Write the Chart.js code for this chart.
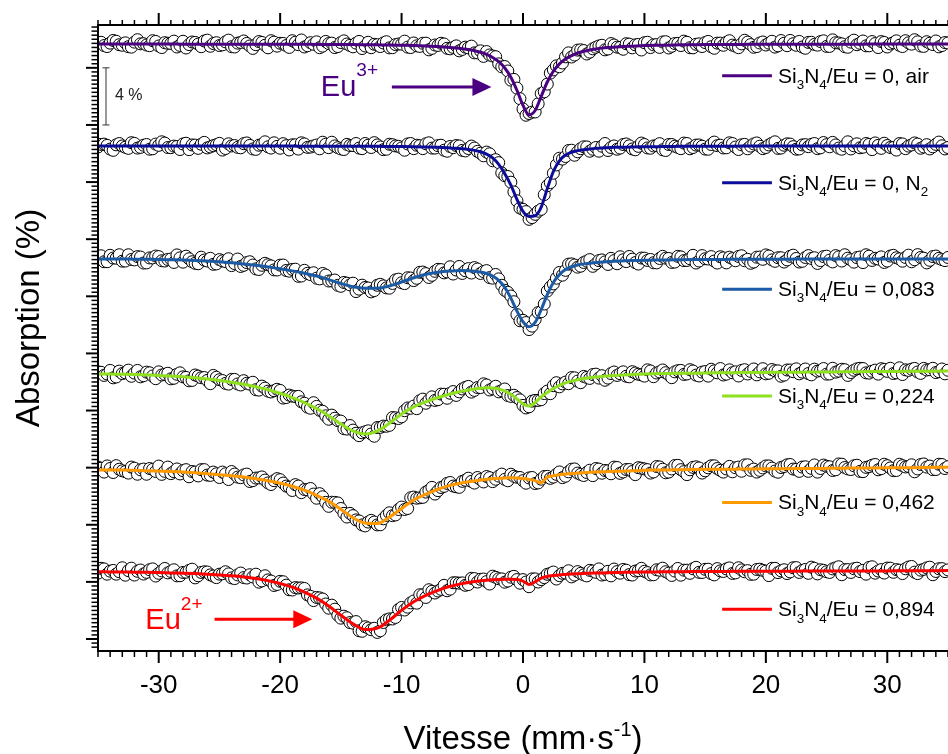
<!DOCTYPE html>
<html>
<head>
<meta charset="utf-8">
<script src="https://cdn.jsdelivr.net/npm/chart.js@4.4.0/dist/chart.umd.min.js"></script>
<style>
  html, body { margin: 0; padding: 0; background: #fff; }
  canvas { display: block; }
</style>
</head>
<body>
<canvas id="chart" width="948" height="754" style="width:948px;height:754px"></canvas>
<script>
// vitesse des points mesures (mm/s), canaux pairs
const VEL = [
  -35,-34.5,-34,-33.5,-33,-32.5,-32,-31.5,-31,-30.5,
  -30,-29.5,-29,-28.5,-28,-27.5,-27,-26.5,-26,-25.5,
  -25,-24.5,-24,-23.5,-23,-22.5,-22,-21.5,-21,-20.5,
  -20,-19.5,-19,-18.5,-18,-17.5,-17,-16.5,-16,-15.5,
  -15,-14.5,-14,-13.5,-13,-12.5,-12,-11.5,-11,-10.5,
  -10,-9.5,-9,-8.5,-8,-7.5,-7,-6.5,-6,-5.5,
  -5,-4.5,-4,-3.5,-3,-2.5,-2,-1.5,-1,-0.5,
  0,0.5,1,1.5,2,2.5,3,3.5,4,4.5,
  5,5.5,6,6.5,7,7.5,8,8.5,9,9.5,
  10,10.5,11,11.5,12,12.5,13,13.5,14,14.5,
  15,15.5,16,16.5,17,17.5,18,18.5,19,19.5,
  20,20.5,21,21.5,22,22.5,23,23.5,24,24.5,
  25,25.5,26,26.5,27,27.5,28,28.5,29,29.5,
  30,30.5,31,31.5,32,32.5,33,33.5,34,34.5,
  35
];
// canaux impairs
const VEL2 = [
  -34.75,-34.25,-33.75,-33.25,-32.75,-32.25,-31.75,-31.25,-30.75,-30.25,
  -29.75,-29.25,-28.75,-28.25,-27.75,-27.25,-26.75,-26.25,-25.75,-25.25,
  -24.75,-24.25,-23.75,-23.25,-22.75,-22.25,-21.75,-21.25,-20.75,-20.25,
  -19.75,-19.25,-18.75,-18.25,-17.75,-17.25,-16.75,-16.25,-15.75,-15.25,
  -14.75,-14.25,-13.75,-13.25,-12.75,-12.25,-11.75,-11.25,-10.75,-10.25,
  -9.75,-9.25,-8.75,-8.25,-7.75,-7.25,-6.75,-6.25,-5.75,-5.25,
  -4.75,-4.25,-3.75,-3.25,-2.75,-2.25,-1.75,-1.25,-0.75,-0.25,
  0.25,0.75,1.25,1.75,2.25,2.75,3.25,3.75,4.25,4.75,
  5.25,5.75,6.25,6.75,7.25,7.75,8.25,8.75,9.25,9.75,
  10.25,10.75,11.25,11.75,12.25,12.75,13.25,13.75,14.25,14.75,
  15.25,15.75,16.25,16.75,17.25,17.75,18.25,18.75,19.25,19.75,
  20.25,20.75,21.25,21.75,22.25,22.75,23.25,23.75,24.25,24.75,
  25.25,25.75,26.25,26.75,27.25,27.75,28.25,28.75,29.25,29.75,
  30.25,30.75,31.25,31.75,32.25,32.75,33.25,33.75,34.25,34.75
];

// vitesse des points de l'ajustement
const FIT_VEL = [
  -35,-34,-33,-32,-31,-30,-29,-28,-27,-26,-25,-24,-23,-22,-21,
  -20,-19,-18,-17,-16,-15,-14,-13,-12,-11,-10,-9,-8,-7,-6,
  -5.5,-5,-4.5,-4,-3.5,-3,-2.5,-2,-1.5,-1,-0.5,0,0.5,1,1.5,2,2.5,3,3.5,4,4.5,5,5.5,6,6.5,7,7.5,8,
  9,10,11,12,13,14,15,16,17,18,19,20,21,22,23,24,25,26,27,28,29,30,31,32,33,34,35
];

const xTicks = [-30, -20, -10, 0, 10, 20, 30];

const labels = [
  'Si_{3}N_{4}/Eu = 0, air',
  'Si_{3}N_{4}/Eu = 0, N_{2}',
  'Si_{3}N_{4}/Eu = 0,083',
  'Si_{3}N_{4}/Eu = 0,224',
  'Si_{3}N_{4}/Eu = 0,462',
  'Si_{3}N_{4}/Eu = 0,894'
];

// decalage vertical de chaque spectre (%)
const offsets = [41.68, 34.54, 26.62, 18.56, 11.84, 4.71];

// absorption mesuree (%), relative a la ligne de base - canaux pairs
const data1 = [
  0.09,-0.12,0.05,0.18,-0.1,-0.2,0.12,0,-0.08,0.22,
  -0.15,0.08,0.03,-0.22,0.18,-0.05,0.1,-0.2,0.26,0.02,
  -0.12,0.14,-0.2,0.05,0.2,-0.15,-0.06,0.1,-0.28,0.12,
  0.04,-0.12,0.22,-0.06,-0.22,0.08,0.14,-0.16,0.02,-0.26,
  0.09,-0.01,-0.21,0.17,-0.15,-0.27,-0.06,0.06,-0.28,-0.05,
  -0.02,-0.23,0.06,-0.18,0.05,-0.32,-0.11,-0.01,-0.35,-0.14,
  -0.39,-0.28,-0.63,-0.49,-0.54,-0.85,-1.4,-1.59,-2.54,-3.1,
  -4.56,-4.88,-4.77,-3.48,-2.82,-1.82,-1.6,-0.91,-0.92,-0.44,
  -0.47,-0.58,-0.24,-0.1,-0.36,-0.08,-0.25,0.01,-0.28,-0.04,
  0.08,-0.26,-0.05,0.13,-0.29,0.02,-0.12,0.11,-0.28,0,
  0.09,-0.2,0.05,-0.1,0.22,-0.16,0,0.12,-0.24,0.06,
  -0.08,0.18,-0.14,0.04,0.24,-0.1,-0.22,0.1,-0.04,0.16,
  -0.18,0.28,0.06,-0.2,0.12,-0.06,0.2,-0.14,0.02,0.16,
  -0.22,0.08,-0.1,0.22,-0.02,0.14,-0.18,0.04,0.2,-0.12,
  0.06
];
const data2 = [
  -0.08,0.12,-0.23,0.07,-0.01,-0.18,0.17,-0.11,0.09,-0.21,
  0.03,0.19,-0.13,-0.05,0.13,-0.27,0.05,0.11,-0.15,0.01,
  0.17,-0.19,-0.01,-0.11,0.15,0.03,-0.25,0.09,-0.07,0.21,
  -0.17,0.01,0.07,-0.23,0.13,-0.09,0.05,0.25,-0.13,-0.01,
  -0.22,0.1,0.02,-0.16,0.16,-0.12,0.06,-0.27,0.11,-0.01,
  -0.15,0.13,-0.2,0.01,0.14,-0.16,0.01,-0.31,-0.05,0.02,
  -0.32,-0.19,-0.16,-0.52,-0.44,-1.05,-1.18,-2.1,-2.55,-3.85,
  -4.45,-5.15,-4.8,-4.45,-2.8,-1.92,-0.87,-0.75,-0.31,-0.42,
  -0.07,-0.38,-0.12,-0.03,-0.33,-0.01,-0.16,0.13,-0.22,-0.04,
  0.09,-0.17,0.02,-0.28,0.09,-0.03,-0.2,0.16,-0.12,0.06,
  -0.23,0.09,0.01,-0.15,0.21,-0.09,0.07,-0.21,0.13,-0.03,
  -0.12,0.18,-0.18,0.04,0.12,-0.24,0.06,-0.06,0.16,-0.14,
  0.08,0.24,-0.16,0,-0.22,0.14,-0.1,0.1,0.2,-0.18,
  0.02,-0.12,0.16,-0.2,0.06,0.12,-0.08,-0.22,0.1,0,
  -0.12
];
const data3 = [
  0.1,-0.2,0.25,0.05,-0.16,0.29,-0.07,0.13,-0.28,0.07,
  0.16,-0.15,-0.01,0.28,-0.23,0.01,-0.31,0.12,-0.15,-0.38,
  -0.05,-0.19,-0.47,-0.01,-0.45,-0.2,-0.7,-0.45,-0.41,-0.77,
  -0.44,-0.81,-0.74,-1.22,-0.8,-1.1,-1.35,-1.02,-1.55,-1.48,
  -1.92,-1.7,-1.7,-2.12,-2.0,-2.31,-1.85,-1.89,-2.05,-1.47,
  -1.67,-1.32,-1.52,-0.94,-1.03,-1.15,-0.73,-0.98,-0.55,-0.78,
  -1.02,-0.68,-0.61,-1.02,-0.82,-1.35,-1.4,-2.2,-2.6,-3.9,
  -4.3,-4.95,-4.25,-3.7,-2.25,-1.75,-0.95,-0.8,-0.35,-0.58,
  -0.25,-0.05,-0.35,-0.07,-0.39,-0.12,0.15,-0.19,-0.02,-0.36,
  0.05,-0.04,-0.28,0.18,0.03,-0.22,0.14,-0.11,0.25,-0.15,
  0.01,0.16,-0.29,0.07,0.12,-0.13,0.22,-0.03,-0.22,0.13,
  0.28,-0.07,0.08,-0.22,0.18,0.03,-0.17,0.23,0.08,-0.12,
  0.19,-0.21,0.14,0.29,-0.06,0.09,-0.26,0.19,0.04,0.14,
  -0.15,0.25,0,0.1,-0.2,0.3,0.05,-0.1,0.2,-0.05,
  0.1
];
const data4 = [
  0.15,-0.1,0.25,-0.21,0.03,0.27,0.06,-0.2,0.13,-0.14,
  0.15,-0.02,-0.34,-0.02,-0.2,-0.48,-0.07,-0.26,-0.45,-0.1,
  -0.4,-0.66,-0.38,-0.7,-0.47,-0.71,-1.1,-0.85,-1.2,-1.17,
  -1.15,-1.65,-1.55,-1.57,-2.05,-2.4,-2.27,-2.61,-3.17,-3.1,
  -3.3,-3.86,-3.93,-4.32,-4.05,-4.2,-3.75,-3.65,-3.6,-3.07,
  -3.0,-2.38,-2.25,-1.87,-2.05,-1.6,-1.8,-1.42,-1.35,-1.5,
  -1.05,-0.87,-1.15,-0.95,-0.77,-1.03,-1.25,-1.05,-1.57,-1.65,
  -2.2,-2.3,-1.85,-1.8,-1.2,-0.82,-0.9,-0.57,-0.25,-0.5,
  -0.17,-0.31,-0.01,-0.12,-0.29,0.14,0.02,-0.16,0.16,-0.02,
  -0.15,0.21,0.07,0.28,-0.06,0.15,0.25,0,0.21,-0.14,
  0.17,0.33,0.08,-0.07,0.29,0.15,0.25,0,0.35,0.15,
  0.01,0.31,0.22,-0.08,0.28,0.36,0.13,0.03,0.34,0.24,
  -0.01,0.4,0.2,0.3,0.1,0.36,0.38,0.06,0.27,0.37,
  0.18,0.03,0.43,0.29,0.34,0.14,0.39,0.3,0.1,0.35,
  0.26
];
const data5 = [
  0.2,-0.15,0.1,0.3,-0.06,-0.22,0.12,0.01,-0.3,0.04,
  0.27,-0.1,-0.26,0.07,-0.05,-0.48,-0.15,0.02,-0.36,-0.15,
  -0.53,-0.27,-0.11,-0.5,-0.35,-0.81,-0.57,-0.49,-0.91,-0.75,
  -0.68,-1.13,-1.44,-1.13,-1.37,-1.3,-1.98,-1.88,-2.55,-2.27,
  -2.7,-3.3,-3.2,-3.57,-3.92,-3.53,-3.85,-3.42,-3.0,-3.15,
  -2.6,-2.7,-1.9,-1.95,-1.55,-1.22,-1.45,-1.15,-0.88,-1.18,
  -0.8,-0.58,-0.92,-0.67,-0.46,-0.82,-0.43,-0.66,-0.3,-0.51,
  -0.75,-0.56,-0.95,-0.65,-0.45,-0.5,-0.14,-0.44,0.05,-0.22,
  -0.39,-0.02,0.1,-0.23,-0.06,0.2,-0.24,0.03,-0.11,0.16,
  0.07,-0.22,0.24,0.05,-0.15,0.31,0.02,-0.33,0.18,0.14,
  -0.06,0.29,0.1,-0.15,0.25,0.15,-0.09,0.36,0.06,-0.03,
  0.28,0.13,-0.16,0.24,0.38,0.04,0.2,-0.1,0.35,0.1,
  0.26,-0.04,0.42,0.17,0.03,0.33,-0.12,0.23,0.38,0.09,
  0.3,-0.05,0.4,0.21,0.36,0.07,0.42,0.27,0.03,0.38,
  0.23
];
const data6 = [
  -0.1,0.2,0.04,-0.17,0.28,0.08,-0.23,0.12,-0.04,0.2,
  -0.11,0.23,0.02,-0.29,-0.05,0.09,-0.43,-0.05,-0.02,-0.3,
  -0.17,0,-0.43,-0.22,-0.41,-0.21,-0.17,-0.64,-0.57,-0.96,
  -0.67,-0.94,-1.28,-1.14,-1.17,-1.72,-1.8,-1.91,-2.55,-2.62,
  -3.25,-3.22,-3.6,-4.13,-3.85,-4.06,-4.25,-3.55,-3.3,-3.2,
  -2.5,-2.48,-2.05,-1.61,-1.8,-1.37,-1.35,-0.95,-1.22,-0.77,
  -0.78,-0.9,-0.48,-0.53,-0.69,-0.31,-0.49,-0.73,-0.38,-0.55,
  -0.55,-1.05,-0.5,-0.55,-0.18,-0.02,-0.27,-0.09,-0.36,0.01,
  -0.22,0.1,-0.04,-0.23,0.03,0.19,-0.1,0.11,-0.23,0.08,
  0.03,-0.22,0.14,0.25,-0.1,0.05,-0.24,0.11,0.21,-0.04,
  0.17,-0.13,0.22,0.02,0.27,-0.08,0.13,0.08,-0.17,0.18,
  0.04,0.24,-0.06,0.14,-0.01,0.29,0.09,-0.11,0.24,0.14,
  0,0.2,0.35,0.15,-0.05,0.25,0.1,0.3,-0.1,0.15,
  0.26,-0.04,0.11,0.21,0.37,-0.13,0.17,0.32,0.02,0.22,
  0.13
];

// canaux impairs
const data1b = [
  0.11,-0.19,0.24,-0.06,0.07,-0.23,0.29,0.01,-0.13,0.17,
  -0.26,0.04,0.19,-0.11,-0.29,0.13,-0.02,0.2,-0.17,0.08,
  -0.07,0.26,-0.22,0.1,0.03,-0.32,0.16,-0.1,0.22,-0.16,
  0.03,-0.25,0.11,0.27,-0.13,-0.03,-0.27,0.17,0.05,-0.19,
  0.21,-0.11,0.05,-0.33,0.11,-0.03,-0.19,0.15,-0.27,-0.01,
  0.19,-0.26,-0.14,0.04,-0.42,-0.08,0.04,-0.31,-0.25,-0.49,
  -0.23,-0.16,-0.63,-0.88,-0.78,-0.9,-1.61,-1.9,-2.49,-3.84,
  -5.0,-4.78,-4.2,-3.36,-2.05,-1.54,-1.34,-0.63,-0.78,-0.42,
  -0.71,-0.35,-0.15,-0.42,0.02,-0.23,-0.38,-0.02,-0.07,-0.43,
  0.11,-0.07,-0.25,0.15,-0.17,0.03,0.19,-0.27,-0.03,-0.19,
  0.17,-0.31,0.05,0.11,-0.09,-0.27,0.25,-0.05,-0.19,0.13,
  0.05,-0.23,0.23,-0.13,0.01,0.17,-0.31,0.11,-0.09,0.21,
  -0.18,0.08,0,-0.24,0.26,0.04,-0.14,0.16,-0.26,0.1,
  -0.01,0.21,-0.19,0.07,0.29,-0.15,0.15,-0.05,-0.21,0.09
];
const data2b = [
  0.1,0.03,-0.32,0.16,-0.1,0.22,-0.16,0.04,-0.24,0.12,
  0.28,-0.12,-0.02,-0.26,0.18,0.06,-0.18,0.24,-0.08,0.08,
  -0.3,0.14,0.02,-0.14,0.2,-0.22,0.04,0.28,-0.16,-0.04,
  0.15,-0.29,0.07,0.21,-0.11,-0.01,-0.21,0.11,0.25,-0.13,
  -0.26,0.02,0.16,-0.2,0.04,0.22,-0.08,-0.24,0.08,-0.04,
  -0.31,0.16,0.04,-0.2,0.21,-0.16,0.04,-0.38,-0.13,-0.01,
  -0.36,-0.02,-0.39,-0.7,-0.56,-0.97,-1.9,-2.15,-3.23,-4.36,
  -4.61,-5.03,-4.58,-3.42,-2.58,-1.34,-0.93,-0.33,-0.66,-0.2,
  -0.08,-0.24,-0.38,0.16,-0.12,-0.24,0.09,0,-0.28,0.19,
  -0.15,-0.01,0.15,-0.33,0.09,-0.11,0.19,-0.21,0.05,-0.03,
  -0.24,0.26,0.04,-0.14,0.16,-0.26,0.1,-0.02,0.2,-0.2,
  0.06,0.28,-0.16,0.14,-0.06,-0.22,0.08,0.1,-0.2,0.23,
  -0.07,0.06,-0.24,0.28,0,-0.14,0.16,-0.27,0.03,0.18,
  -0.12,-0.3,0.13,-0.02,0.2,-0.17,0.08,-0.07,0.26,-0.22
];
const data3b = [
  0.22,-0.2,0.06,0.29,-0.15,-0.04,0.16,-0.29,0.07,0.2,
  -0.13,-0.04,-0.25,0.07,0.19,-0.2,-0.34,-0.08,0.04,-0.35,
  -0.14,0.01,-0.33,-0.53,-0.26,-0.43,-0.74,-0.31,-0.49,-0.78,
  -0.43,-0.86,-0.72,-1.2,-1.01,-0.97,-1.4,-1.13,-1.54,-1.85,
  -1.65,-1.82,-2.29,-1.84,-2.04,-2.22,-1.78,-2.03,-1.72,-1.42,
  -1.73,-1.34,-1.36,-0.92,-1.3,-0.87,-0.75,-0.91,-1.06,-0.53,
  -0.83,-0.99,-0.71,-0.89,-1.31,-1.09,-1.85,-2.34,-3.0,-4.33,
  -4.46,-4.71,-3.76,-3.16,-1.97,-1.35,-1.14,-0.37,-0.43,-0.51,
  -0.15,-0.52,-0.12,-0.21,0.04,-0.34,-0.06,0.17,-0.26,0.06,
  -0.11,-0.27,0.03,0.05,-0.25,0.18,-0.12,0.01,-0.29,0.23,
  -0.01,-0.15,0.15,-0.28,0.02,0.17,-0.13,-0.31,0.12,-0.03,
  0.2,-0.17,0.08,-0.07,0.26,-0.22,0.1,0.03,-0.32,0.16,
  -0.09,0.23,-0.15,0.05,-0.23,0.13,0.29,-0.11,-0.01,-0.25,
  0.2,0.08,-0.16,0.26,-0.06,0.1,-0.28,0.16,0.04,-0.12
];
const data4b = [
  0.12,0,-0.27,0.2,0.08,-0.16,0.25,-0.12,0.08,-0.33,
  -0.07,0.05,-0.3,0.08,-0.24,-0.45,-0.15,-0.25,-0.68,-0.23,
  -0.46,-0.71,-0.38,-0.77,-0.65,-0.58,-1.13,-0.99,-1.26,-1.07,
  -1.69,-1.48,-1.58,-1.95,-2.32,-2.01,-2.54,-2.93,-2.88,-3.27,
  -3.83,-3.61,-4.15,-4.12,-3.98,-4.36,-3.74,-3.66,-3.05,-3.12,
  -2.57,-2.4,-2.43,-1.76,-1.82,-1.85,-1.41,-1.7,-1.23,-1.25,
  -0.94,-1.27,-0.95,-0.69,-1.12,-0.86,-1.17,-1.51,-1.49,-1.81,
  -2.38,-1.9,-1.85,-1.37,-1.38,-0.61,-0.69,-0.68,-0.27,-0.61,
  -0.24,-0.04,-0.29,-0.44,0.03,-0.1,0.15,-0.2,0.07,-0.06,
  0.29,-0.19,0.15,0.09,-0.26,0.23,-0.03,0.3,-0.08,0.13,
  -0.15,0.22,0.38,-0.01,0.09,-0.14,0.3,0.18,-0.06,0.37,
  0.05,0.22,-0.16,0.28,0.16,0.01,0.35,-0.06,0.2,0.38,
  0,0.13,0.33,-0.1,0.26,0.4,0.08,0.19,-0.01,0.32,
  0.4,0.08,-0.04,0.25,0.39,0.04,0.28,0.4,0.16,0.01
];
const data5b = [
  0.12,0.28,-0.18,0.05,-0.12,0.2,-0.3,0.06,0.1,-0.11,
  -0.31,0.2,-0.12,-0.28,0.02,-0.11,-0.42,0.02,-0.38,-0.27,
  -0.15,-0.67,-0.29,-0.54,-0.29,-0.75,-0.56,-0.71,-1.02,-0.61,
  -0.92,-1.21,-1.03,-1.59,-1.39,-1.69,-1.66,-2.27,-2.26,-2.31,
  -3.04,-3.04,-3.5,-3.85,-3.65,-3.65,-3.84,-3.19,-3.2,-2.77,
  -2.77,-1.95,-1.98,-1.92,-1.43,-1.69,-1.23,-0.94,-1.13,-1.22,
  -0.72,-0.8,-0.53,-0.84,-0.54,-0.65,-0.29,-0.76,-0.44,-0.53,
  -0.93,-0.53,-0.91,-0.46,-0.59,-0.31,-0.54,-0.13,0.07,-0.31,
  -0.18,-0.4,0.06,-0.04,-0.27,0.17,-0.14,0.03,-0.33,0.12,
  0.02,-0.14,0.21,-0.2,0.07,0.32,-0.12,0.01,0.22,-0.22,
  0.15,0.29,-0.03,0.07,-0.13,0.2,0.35,-0.03,-0.15,0.14,
  0.28,-0.08,0.17,0.36,0.06,-0.1,0.22,0.11,-0.15,0.34,
  0.22,0.01,0.4,0.07,0.29,-0.1,0.18,0.33,0.01,0.4,
  0.14,-0.04,0.3,0.25,-0.13,0.38,0.2,0.02,0.4,0.1
];
const data6b = [
  0.24,-0.17,0.09,0,-0.24,0.25,0.03,-0.16,0.14,-0.3,
  0.06,-0.08,0.14,-0.28,-0.03,0.18,-0.28,0,-0.22,-0.41,
  -0.14,-0.15,-0.48,-0.09,-0.44,-0.36,-0.73,-0.28,-0.65,-0.89,
  -0.7,-1.26,-1.11,-1.13,-1.62,-2.02,-1.83,-2.26,-2.34,-3.04,
  -3.11,-3.56,-3.49,-4.17,-3.94,-3.96,-4.13,-3.37,-3.31,-2.64,
  -2.68,-2.18,-2.2,-1.62,-1.26,-1.49,-1.23,-1.33,-0.77,-0.8,
  -0.95,-0.46,-0.72,-0.51,-0.86,-0.39,-0.5,-0.65,-0.32,-0.8,
  -0.72,-0.5,-0.72,-0.41,-0.12,-0.51,-0.11,0.07,-0.23,-0.11,
  -0.29,0.05,0.2,-0.18,-0.29,0.01,0.16,-0.2,0.05,0.24,
  -0.06,-0.21,0.11,0,-0.26,0.23,0.11,-0.11,0.31,-0.05,
  0.18,-0.22,0.06,0.2,-0.12,0.28,0,-0.18,0.16,0.1,
  -0.27,0.24,0.06,-0.13,0.28,-0.05,0.16,0.32,-0.15,0.1,
  -0.05,0.27,-0.21,0.15,0.21,0.01,-0.17,0.35,0.05,-0.09,
  0.25,0.15,-0.13,0.33,-0.03,0.11,0.27,-0.21,0.21,0.01
];

// ajustements (%), relatifs a la ligne de base
const fit1 = [
  -0.01,-0.01,-0.01,-0.01,-0.01,-0.01,-0.01,-0.02,-0.02,-0.02,-0.02,-0.02,-0.02,-0.02,-0.03,
  -0.03,-0.03,-0.03,-0.04,-0.04,-0.05,-0.05,-0.06,-0.07,-0.08,-0.1,-0.12,-0.15,-0.19,-0.25,
  -0.29,-0.34,-0.4,-0.48,-0.59,-0.74,-0.95,-1.25,-1.69,-2.34,-3.25,-4.31,-4.98,-4.67,-3.68,-2.67,-1.92,-1.4,-1.06,-0.82,-0.64,-0.52,-0.43,-0.36,-0.3,-0.26,-0.23,-0.2,
  -0.16,-0.12,-0.1,-0.09,-0.07,-0.06,-0.05,-0.05,-0.04,-0.04,-0.03,-0.03,-0.03,-0.02,-0.02,-0.02,-0.02,-0.02,-0.02,-0.02,-0.01,-0.01,-0.01,-0.01,-0.01,-0.01,-0.01
];
const fit2 = [
  -0.02,-0.02,-0.02,-0.02,-0.02,-0.02,-0.02,-0.02,-0.02,-0.02,-0.02,-0.02,-0.02,-0.02,-0.02,
  -0.02,-0.02,-0.03,-0.03,-0.03,-0.03,-0.04,-0.04,-0.04,-0.05,-0.05,-0.06,-0.08,-0.11,-0.15,
  -0.18,-0.2,-0.25,-0.32,-0.42,-0.58,-0.85,-1.3,-1.95,-2.75,-3.75,-4.6,-4.95,-4.9,-4.3,-3.0,-1.8,-1.05,-0.65,-0.45,-0.34,-0.27,-0.22,-0.18,-0.15,-0.13,-0.11,-0.1,
  -0.08,-0.07,-0.06,-0.05,-0.04,-0.04,-0.03,-0.03,-0.03,-0.02,-0.02,-0.02,-0.02,-0.02,-0.02,-0.02,-0.02,-0.02,-0.02,-0.02,-0.02,-0.02,-0.02,-0.02,-0.02,-0.02,-0.02
];
const fit3 = [
  0,0,-0.01,-0.02,-0.03,-0.04,-0.06,-0.08,-0.11,-0.15,-0.2,-0.27,-0.35,-0.45,-0.56,
  -0.69,-0.84,-1.0,-1.2,-1.45,-1.72,-1.95,-2.05,-2.05,-1.9,-1.62,-1.32,-1.08,-0.93,-0.85,
  -0.83,-0.82,-0.83,-0.86,-0.92,-1.02,-1.2,-1.5,-2.0,-2.75,-3.65,-4.4,-4.75,-4.45,-3.55,-2.5,-1.65,-1.1,-0.75,-0.55,-0.43,-0.35,-0.3,-0.25,-0.22,-0.19,-0.17,-0.15,
  -0.12,-0.1,-0.08,-0.07,-0.06,-0.05,-0.04,-0.04,-0.03,-0.03,-0.02,-0.02,-0.02,-0.02,-0.01,-0.01,-0.01,-0.01,-0.01,-0.01,0,0,0,0,0,0,0
];
const fit4 = [
  0,0,-0.02,-0.04,-0.07,-0.1,-0.14,-0.2,-0.27,-0.35,-0.45,-0.58,-0.72,-0.9,-1.1,
  -1.35,-1.65,-2.0,-2.42,-2.92,-3.5,-3.98,-4.2,-4.0,-3.45,-2.8,-2.3,-1.95,-1.65,-1.4,
  -1.3,-1.2,-1.12,-1.05,-1.0,-0.97,-0.98,-1.05,-1.2,-1.42,-1.75,-2.1,-2.25,-2.0,-1.6,-1.3,-1.02,-0.8,-0.62,-0.5,-0.4,-0.32,-0.26,-0.21,-0.17,-0.14,-0.11,-0.08,
  -0.04,0,0.02,0.04,0.05,0.06,0.07,0.08,0.09,0.1,0.1,0.11,0.12,0.12,0.13,0.14,0.14,0.15,0.16,0.16,0.17,0.18,0.18,0.19,0.2,0.2,0.21
];
const fit5 = [
  0,0,-0.01,-0.03,-0.05,-0.08,-0.11,-0.15,-0.2,-0.26,-0.33,-0.41,-0.5,-0.62,-0.76,
  -0.93,-1.14,-1.42,-1.78,-2.2,-2.75,-3.35,-3.72,-3.75,-3.3,-2.7,-2.1,-1.7,-1.35,-1.08,
  -0.98,-0.9,-0.83,-0.77,-0.72,-0.66,-0.62,-0.58,-0.56,-0.55,-0.56,-0.6,-0.66,-0.75,-0.9,-0.5,-0.4,-0.34,-0.29,-0.25,-0.22,-0.19,-0.17,-0.15,-0.13,-0.11,-0.1,-0.09,
  -0.06,-0.03,-0.01,0,0.02,0.03,0.04,0.05,0.05,0.06,0.07,0.08,0.08,0.09,0.1,0.1,0.11,0.12,0.13,0.13,0.14,0.15,0.16,0.16,0.17,0.18,0.18
];
const fit6 = [
  0,-0.01,-0.02,-0.03,-0.04,-0.06,-0.08,-0.1,-0.13,-0.17,-0.22,-0.28,-0.36,-0.47,-0.62,
  -0.82,-1.08,-1.42,-1.85,-2.4,-3.05,-3.65,-4.05,-3.95,-3.4,-2.7,-2.1,-1.65,-1.3,-1.02,
  -0.92,-0.83,-0.75,-0.68,-0.63,-0.59,-0.56,-0.54,-0.53,-0.53,-0.55,-0.65,-0.9,-0.7,-0.45,-0.33,-0.27,-0.22,-0.19,-0.16,-0.14,-0.12,-0.1,-0.09,-0.08,-0.07,-0.06,-0.05,
  -0.03,-0.02,-0.01,0,0.005,0.01,0.015,0.02,0.025,0.03,0.03,0.035,0.04,0.04,0.045,0.045,0.05,0.05,0.055,0.055,0.06,0.06,0.065,0.07,0.07,0.075,0.08
];

const measured = [data1, data2, data3, data4, data5, data6];
const measuredB = [data1b, data2b, data3b, data4b, data5b, data6b];
const fits = [fit1, fit2, fit3, fit4, fit5, fit6];
const colors = ['#4B0082', '#0C0C9A', '#1B5AA5', '#8FE01E', '#FF9900', '#FF0000'];

const FONT = "'Liberation Sans', Arial, sans-serif";

// position de la legende (unites des axes)
const legendX = [16.4, 20.5, 21.0];
const legendY = [39.44, 31.96, 24.5, 17.02, 9.56, 2.08];

const annotations = [
  { text: 'Eu^{3+}', color: colors[0], x: -16.65, y: 38.06, from: -10.8, to: -2.6, ay: 38.65 },
  { text: 'Eu^{2+}', color: colors[5], x: -31.1, y: 0.68, from: -25.4, to: -17.35, ay: 1.38 }
];

// texte avec indices / exposants: _{..} et ^{..}
function parseRich(str) {
  const parts = [];
  const re = /([_^])\{([^}]*)\}/g;
  let last = 0, m;
  while ((m = re.exec(str))) {
    if (m.index > last) parts.push([str.slice(last, m.index), '']);
    parts.push([m[2], m[1] === '_' ? 'sub' : 'sup']);
    last = re.lastIndex;
  }
  if (last < str.length) parts.push([str.slice(last), '']);
  return parts;
}

function richWidth(ctx, str, size, o) {
  let w = 0;
  parseRich(str).forEach(([t, k]) => {
    ctx.font = (k ? size * o.scale : size) + 'px ' + FONT;
    w += ctx.measureText(t).width;
  });
  return w;
}

function drawRich(ctx, str, x, y, size, o) {
  parseRich(str).forEach(([t, k]) => {
    const s = k ? size * o.scale : size;
    const dy = k === 'sub' ? size * o.sub : (k === 'sup' ? -size * o.sup : 0);
    ctx.font = s + 'px ' + FONT;
    ctx.fillText(t, x, y + dy);
    x += ctx.measureText(t).width;
  });
}

const decorPlugin = {
  id: 'decor',
  afterDraw(chart) {
    const { ctx, chartArea: a } = chart;
    const xs = chart.scales.x, ys = chart.scales.y;
    ctx.save();
    ctx.strokeStyle = '#000';
    ctx.fillStyle = '#000';

    const seg = (x1, y1, x2, y2) => { ctx.beginPath(); ctx.moveTo(x1, y1); ctx.lineTo(x2, y2); ctx.stroke(); };

    // ticks X (haut et bas)
    for (let v = -35; v <= 35; v += 1) {
      const major = xTicks.includes(v);
      const px = xs.getPixelForValue(v);
      ctx.lineWidth = major ? 2 : 1.5;
      seg(px, a.bottom, px, a.bottom + (major ? 12 : 6));
      seg(px, a.top, px, a.top - (major ? 12 : 5));
    }
    // ticks Y
    const nMinor = 14;
    for (let j = Math.ceil(ys.min * nMinor / 4); j <= Math.floor(ys.max * nMinor / 4); j++) {
      const major = j % nMinor === 0;
      const py = ys.getPixelForValue(j * 4 / nMinor);
      ctx.lineWidth = major ? 2 : 1.5;
      seg(a.left, py, a.left - (major ? 12 : 6.5), py);
    }
    // axes
    ctx.lineWidth = 2;
    seg(a.left, a.top - 1, a.left, a.bottom + 1);
    seg(a.left - 1, a.bottom, a.right, a.bottom);
    seg(a.left - 1, a.top, a.right, a.top);

    // barre d'echelle 4 %
    const bx = a.left + 8;
    const b1 = ys.getPixelForValue(40), b2 = ys.getPixelForValue(36);
    ctx.strokeStyle = '#333';
    ctx.lineWidth = 1;
    seg(bx, b1, bx, b2);
    seg(bx - 3.5, b1, bx + 3.5, b1);
    seg(bx - 3.5, b2, bx + 3.5, b2);
    ctx.fillStyle = '#222';
    ctx.font = '16px ' + FONT;
    ctx.textBaseline = 'middle';
    ctx.fillText('4 %', bx + 9, (b1 + b2) / 2 - 1);
    ctx.textBaseline = 'alphabetic';

    // legende
    labels.forEach((lab, k) => {
      const py = ys.getPixelForValue(legendY[k]);
      ctx.strokeStyle = colors[k];
      ctx.lineWidth = 3;
      seg(xs.getPixelForValue(legendX[0]), py, xs.getPixelForValue(legendX[1]), py);
      ctx.fillStyle = '#000';
      drawRich(ctx, lab, xs.getPixelForValue(legendX[2]), py + 7, 21, { scale: 0.64, sub: 0.3, sup: 0.4 });
    });

    // annotations Eu3+ / Eu2+
    annotations.forEach(an => {
      ctx.fillStyle = an.color;
      drawRich(ctx, an.text, xs.getPixelForValue(an.x), ys.getPixelForValue(an.y), 29, { scale: 0.66, sub: 0.3, sup: 0.66 });
      const y0 = ys.getPixelForValue(an.ay);
      const x0 = xs.getPixelForValue(an.from), x1 = xs.getPixelForValue(an.to);
      ctx.strokeStyle = an.color;
      ctx.lineWidth = 3;
      seg(x0, y0, x1 - 18, y0);
      ctx.beginPath();
      ctx.moveTo(x1, y0);
      ctx.lineTo(x1 - 19, y0 - 9);
      ctx.lineTo(x1 - 19, y0 + 9);
      ctx.closePath();
      ctx.fill();
    });

    // titres des axes
    ctx.fillStyle = '#000';
    const xt = 'Vitesse (mm·s^{-1})';
    const xo = { scale: 0.6, sub: 0.3, sup: 0.4 };
    drawRich(ctx, xt, (a.left + a.right) / 2 - richWidth(ctx, xt, 33, xo) / 2, 749, 33, xo);
    const yt = 'Absorption (%)';
    ctx.translate(38.6, 318);
    ctx.rotate(-Math.PI / 2);
    drawRich(ctx, yt, -richWidth(ctx, yt, 33, xo) / 2, 0, 33, xo);
    ctx.restore();
  }
};

const datasets = [];
fits.forEach((fit, k) => {
  datasets.push({
    label: labels[k],
    data: FIT_VEL.map((v, i) => ({ x: v, y: offsets[k] + fit[i] })),
    showLine: true,
    borderColor: colors[k],
    borderWidth: 3,
    pointRadius: 0,
    cubicInterpolationMode: 'monotone',
    order: 0
  });
});
measured.forEach((d, k) => {
  const pts = VEL.map((v, i) => ({ x: v, y: offsets[k] + d[i] }))
    .concat(VEL2.map((v, i) => ({ x: v, y: offsets[k] + measuredB[k][i] })))
    .sort((p, q) => p.x - q.x);
  datasets.push({
    label: labels[k] + ' (mesure)',
    data: pts,
    showLine: false,
    pointRadius: 6,
    pointBackgroundColor: '#fff',
    pointBorderColor: '#000',
    pointBorderWidth: 1,
    order: 1
  });
});

const ctx = document.getElementById('chart').getContext('2d');
const chart = new Chart(ctx, {
  type: 'scatter',
  data: { datasets },
  options: {
    responsive: false,
    animation: false,
    devicePixelRatio: 1,
    layout: { autoPadding: false, padding: { top: 25, left: 0, right: 0, bottom: 0 } },
    plugins: { legend: { display: false }, tooltip: { enabled: false } },
    scales: {
      x: {
        type: 'linear',
        min: -35,
        max: 35,
        afterFit(s) { s.height = 103; },
        afterBuildTicks(s) { s.ticks = xTicks.map(v => ({ value: v })); },
        grid: { display: false, drawTicks: false },
        border: { display: false },
        ticks: { color: '#000', font: { family: FONT, size: 26 }, padding: 19, maxRotation: 0, autoSkip: false }
      },
      y: {
        type: 'linear',
        min: -0.84,
        max: 43,
        afterFit(s) { s.width = 98; },
        grid: { display: false, drawTicks: false },
        border: { display: false },
        ticks: { display: false }
      }
    }
  },
  plugins: [decorPlugin]
});
</script>
</body>
</html>
